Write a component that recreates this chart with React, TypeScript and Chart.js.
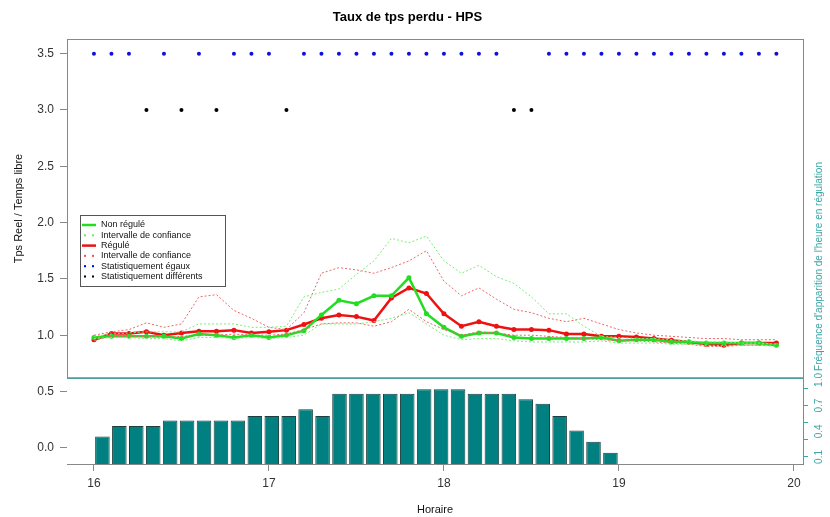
import React, { useEffect, useRef } from "react";
import { Chart, registerables } from "chart.js";
Chart.register(...registerables);

const hours = [16.0,16.1,16.2,16.3,16.4,16.5,16.6,16.7,16.8,16.9,17.0,17.1,17.2,17.3,17.4,17.5,17.6,17.7,17.8,17.9,18.0,18.1,18.2,18.3,18.4,18.5,18.6,18.7,18.8,18.9,19.0,19.1,19.2,19.3,19.4,19.5,19.6,19.7,19.8,19.9];
const nonRegule = [0.98,0.99,0.99,0.99,0.99,0.97,1.01,1.0,0.98,1.0,0.98,1.0,1.04,1.18,1.31,1.28,1.35,1.35,1.51,1.19,1.07,0.99,1.02,1.02,0.98,0.97,0.97,0.97,0.97,0.98,0.95,0.96,0.96,0.94,0.94,0.93,0.93,0.93,0.93,0.91];
const nonReguleHaut = [0.99,1.01,1.02,1.03,1.03,1.03,1.1,1.1,1.1,1.07,1.07,1.08,1.34,1.38,1.41,1.54,1.66,1.86,1.82,1.88,1.66,1.55,1.62,1.52,1.46,1.34,1.19,1.19,1.08,0.99,0.98,0.97,0.97,0.96,0.95,0.94,0.94,0.93,0.93,0.92];
const nonReguleBas = [0.97,0.98,0.98,0.97,0.97,0.95,0.98,0.98,0.97,0.98,0.97,0.98,1.0,1.1,1.1,1.1,1.12,1.15,1.2,1.1,1.0,0.96,0.97,0.97,0.95,0.94,0.94,0.94,0.94,0.95,0.93,0.93,0.93,0.92,0.92,0.91,0.91,0.91,0.91,0.9];
const regule = [0.96,1.015,1.015,1.03,1.0,1.02,1.035,1.035,1.045,1.02,1.03,1.045,1.095,1.15,1.18,1.165,1.13,1.33,1.42,1.37,1.19,1.08,1.12,1.08,1.05,1.05,1.045,1.01,1.01,0.99,0.99,0.985,0.97,0.955,0.94,0.92,0.91,0.93,0.93,0.93];
const reguleHaut = [1.0,1.03,1.05,1.11,1.07,1.1,1.34,1.36,1.22,1.15,1.07,1.05,1.2,1.55,1.6,1.58,1.55,1.6,1.66,1.75,1.48,1.35,1.42,1.32,1.23,1.2,1.15,1.12,1.15,1.1,1.05,1.02,1.0,0.99,0.98,0.97,0.97,0.96,0.96,0.96];
const reguleBas = [0.95,0.99,0.99,0.99,0.98,0.99,1.0,1.0,1.01,1.0,1.0,1.01,1.05,1.1,1.11,1.11,1.08,1.12,1.23,1.12,1.05,1.0,1.03,1.02,1.0,1.0,0.99,0.98,0.97,0.96,0.95,0.95,0.94,0.93,0.92,0.9,0.9,0.91,0.91,0.91];
const egauxHours = [16.0,16.1,16.2,16.4,16.6,16.8,16.9,17.0,17.2,17.3,17.4,17.5,17.6,17.7,17.8,17.9,18.0,18.1,18.2,18.3,18.6,18.7,18.8,18.9,19.0,19.1,19.2,19.3,19.4,19.5,19.6,19.7,19.8,19.9];
const differentsHours = [16.3,16.5,16.7,17.1,18.4,18.5];
const frequence = [0.096,0.19,0.19,0.19,0.24,0.24,0.24,0.24,0.24,0.28,0.28,0.28,0.34,0.28,0.48,0.48,0.48,0.48,0.48,0.52,0.52,0.52,0.48,0.48,0.48,0.43,0.39,0.28,0.15,0.05,-0.05];
const yTicksTop = [1.0,1.5,2.0,2.5,3.0,3.5];
const yTicksBottom = [0.0,0.5];
const freqTicks = [0.1,0.2,0.3,0.4,0.5,0.6,0.7,0.8,0.9,1.0];
const freqLabels = [0.1,0.4,0.7,1.0];
const xTicks = [16,17,18,19,20];

const FONT = "'Liberation Sans', Arial, sans-serif";
const TEAL = "#3aa5a5";
const GREEN = "#22dd22";
const RED = "#ee1111";
const XMIN = 15.846, XMAX = 20.052;

export default function App() {
  const topRef = useRef<HTMLCanvasElement>(null);
  const botRef = useRef<HTMLCanvasElement>(null);
  useEffect(() => {
    const pts = (xs: number[], ys: number[]) => xs.map((x, i) => ({ x, y: ys[i] }));
    const legendPlugin = {
      id: "legendBox",
      afterDraw(chart: any) {
        const ctx = chart.ctx;
        const a = chart.chartArea;
        ctx.save();
        ctx.strokeStyle = "#888";
        ctx.lineWidth = 1;
        ctx.strokeRect(a.left + 0.5, a.top + 0.5, a.right - a.left, a.bottom - a.top);
        ctx.strokeStyle = TEAL;
        ctx.lineWidth = 1.5;
        ctx.beginPath(); ctx.moveTo(a.left, a.bottom); ctx.lineTo(a.right, a.bottom); ctx.stroke();
        const bx = 80, by = 215, bw = 145, bh = 71;
        ctx.fillStyle = "#fff";
        ctx.fillRect(bx, by, bw, bh);
        ctx.strokeStyle = "#555"; ctx.lineWidth = 1;
        ctx.strokeRect(bx + 0.5, by + 0.5, bw, bh);
        const items = [
          { t: "Non régulé", c: GREEN, s: "line" },
          { t: "Intervalle de confiance", c: "#66ee66", s: "dot" },
          { t: "Régulé", c: RED, s: "line" },
          { t: "Intervalle de confiance", c: "#ee5555", s: "dot" },
          { t: "Statistiquement égaux", c: "#0000dd", s: "dot" },
          { t: "Statistiquement différents", c: "#000", s: "dot" },
        ];
        ctx.font = `9px ${FONT}`;
        ctx.textBaseline = "middle";
        items.forEach((it, i) => {
          const y = by + 10 + i * 10.3;
          if (it.s === "line") {
            ctx.strokeStyle = it.c; ctx.lineWidth = 2.5; ctx.setLineDash([]);
            ctx.beginPath(); ctx.moveTo(bx + 2, y); ctx.lineTo(bx + 16, y); ctx.stroke();
          } else {
            ctx.fillStyle = it.c;
            ctx.fillRect(bx + 4, y - 1, 2, 2); ctx.fillRect(bx + 12, y - 1, 2, 2);
          }
          ctx.fillStyle = "#111";
          ctx.fillText(it.t, bx + 21, y);
        });
        ctx.restore();
      },
    };
    const top = new Chart(topRef.current!, {
      type: "line",
      data: {
        datasets: [
          { data: pts(hours, nonReguleHaut), borderColor: "#77ee77", borderWidth: 1, borderDash: [2, 2], pointRadius: 0 },
          { data: pts(hours, nonReguleBas), borderColor: "#77ee77", borderWidth: 1, borderDash: [2, 2], pointRadius: 0 },
          { data: pts(hours, reguleHaut), borderColor: "#ee6666", borderWidth: 1, borderDash: [2, 2], pointRadius: 0 },
          { data: pts(hours, reguleBas), borderColor: "#ee6666", borderWidth: 1, borderDash: [2, 2], pointRadius: 0 },
          { data: pts(hours, nonRegule), borderColor: GREEN, backgroundColor: GREEN, borderWidth: 2.5, pointRadius: 2.5, pointBorderWidth: 0 },
          { data: pts(hours, regule), borderColor: RED, backgroundColor: RED, borderWidth: 2.5, pointRadius: 2.5, pointBorderWidth: 0 },
          { data: egauxHours.map((x) => ({ x, y: 3.5 })), showLine: false, backgroundColor: "#1010dd", borderWidth: 0, pointRadius: 2 },
          { data: differentsHours.map((x) => ({ x, y: 3.0 })), showLine: false, backgroundColor: "#000", borderWidth: 0, pointRadius: 2 },
        ],
      },
      options: {
        animation: false, responsive: false, maintainAspectRatio: false,
        layout: { padding: { right: 27, bottom: 139, top: 0, left: 12 } },
        plugins: {
          legend: { display: false }, tooltip: { enabled: false },
          title: { display: true, text: "Taux de tps perdu - HPS", font: { family: FONT, size: 13, weight: "bold" }, color: "#000", padding: { top: 10, bottom: 13.4 } },
        },
        scales: {
          x: { type: "linear", min: XMIN, max: XMAX, display: false },
          y: {
            min: 0.62, max: 3.63,
            afterFit: (s: any) => { s.width = 55; },
            afterBuildTicks: (s: any) => { s.ticks = yTicksTop.map((v) => ({ value: v })); },
            ticks: { font: { family: FONT, size: 12 }, color: "#333", padding: 6, callback: (v: any) => Number(v).toFixed(1) },
            grid: { drawOnChartArea: false, tickLength: 7, color: "#888" },
            border: { color: "#888" },
            title: { display: true, text: "Tps Reel / Temps libre", font: { family: FONT, size: 11 }, color: "#111", padding: 0 },
          },
        },
      },
      plugins: [legendPlugin],
    } as any);

    const rightPlugin = {
      id: "rightLabels",
      afterDraw(chart: any) {
        const ctx = chart.ctx;
        const s = chart.scales.y2;
        const a = chart.chartArea;
        ctx.save();
        ctx.strokeStyle = "#888"; ctx.lineWidth = 1;
        ctx.beginPath(); ctx.moveTo(a.right + 0.5, a.top); ctx.lineTo(a.right + 0.5, a.bottom); ctx.stroke();
        ctx.fillStyle = TEAL;
        ctx.font = `10px ${FONT}`;
        ctx.textBaseline = "middle";
        ctx.textAlign = "center";
        freqLabels.forEach((v) => {
          const y = s.getPixelForValue(v);
          ctx.save(); ctx.translate(819, y); ctx.rotate(-Math.PI / 2); ctx.fillText(v.toFixed(1), 0, 0); ctx.restore();
        });
        ctx.textAlign = "left";
        ctx.save();
        ctx.translate(819, s.getPixelForValue(1.0) - 9);
        ctx.rotate(-Math.PI / 2);
        ctx.fillText("Fréquence d'apparition de l'heure en régulation", 0, 0);
        ctx.restore();
        ctx.restore();
      },
    };
    const bot = new Chart(botRef.current!, {
      type: "bar",
      data: {
        datasets: [
          {
            data: frequence.map((v, i) => ({ x: i + 0.5, y: v })),
            xAxisID: "xb", yAxisID: "y",
            backgroundColor: "#008080", borderColor: "#1d3f3f", borderWidth: 1,
            barPercentage: 0.86, categoryPercentage: 1, base: -0.15,
          },
        ],
      },
      options: {
        animation: false, responsive: false, maintainAspectRatio: false,
        layout: { padding: { top: 378, right: 0, bottom: 0, left: 12 } },
        plugins: { legend: { display: false }, tooltip: { enabled: false } },
        scales: {
          xb: { type: "linear", display: false, offset: false, min: (XMIN - 16) * 31 / 3, max: (XMAX - 16) * 31 / 3 },
          x: {
            type: "linear", position: "bottom", min: XMIN, max: XMAX, offset: false,
            afterFit: (s: any) => { s.height = 53; },
            afterBuildTicks: (s: any) => { s.ticks = xTicks.map((v) => ({ value: v })); },
            ticks: { font: { family: FONT, size: 12 }, color: "#333", padding: 5 },
            grid: { drawOnChartArea: false, tickLength: 7, color: "#888", offset: false },
            border: { color: "#888" },
            title: { display: true, text: "Horaire", font: { family: FONT, size: 11 }, color: "#111", padding: { top: 8, bottom: 0 } },
          },
          y: {
            min: -0.15, max: 0.62,
            afterFit: (s: any) => { s.width = 55; },
            afterBuildTicks: (s: any) => { s.ticks = yTicksBottom.map((v) => ({ value: v })); },
            ticks: { font: { family: FONT, size: 12 }, color: "#333", padding: 6, callback: (v: any) => Number(v).toFixed(1) },
            grid: { drawOnChartArea: false, tickLength: 7, color: "#888" },
            border: { display: false },
          },
          y2: {
            position: "right", min: 0.018, max: 1.023,
            afterFit: (s: any) => { s.width = 27; },
            afterBuildTicks: (s: any) => { s.ticks = freqTicks.map((v) => ({ value: v })); },
            ticks: { callback: () => "", padding: 0 },
            grid: { drawOnChartArea: false, tickLength: 5, color: TEAL },
            border: { color: TEAL },
          },
        },
      },
      plugins: [rightPlugin],
    } as any);
    return () => { top.destroy(); bot.destroy(); };
  }, []);
  const st: React.CSSProperties = { position: "absolute", left: 0, top: 0, width: 830, height: 517 };
  return (
    <div style={{ position: "fixed", left: 0, top: 0, width: 830, height: 517, background: "#fff" }}>
      <canvas ref={botRef} width={830} height={517} style={st} />
      <canvas ref={topRef} width={830} height={517} style={st} />
    </div>
  );
}
